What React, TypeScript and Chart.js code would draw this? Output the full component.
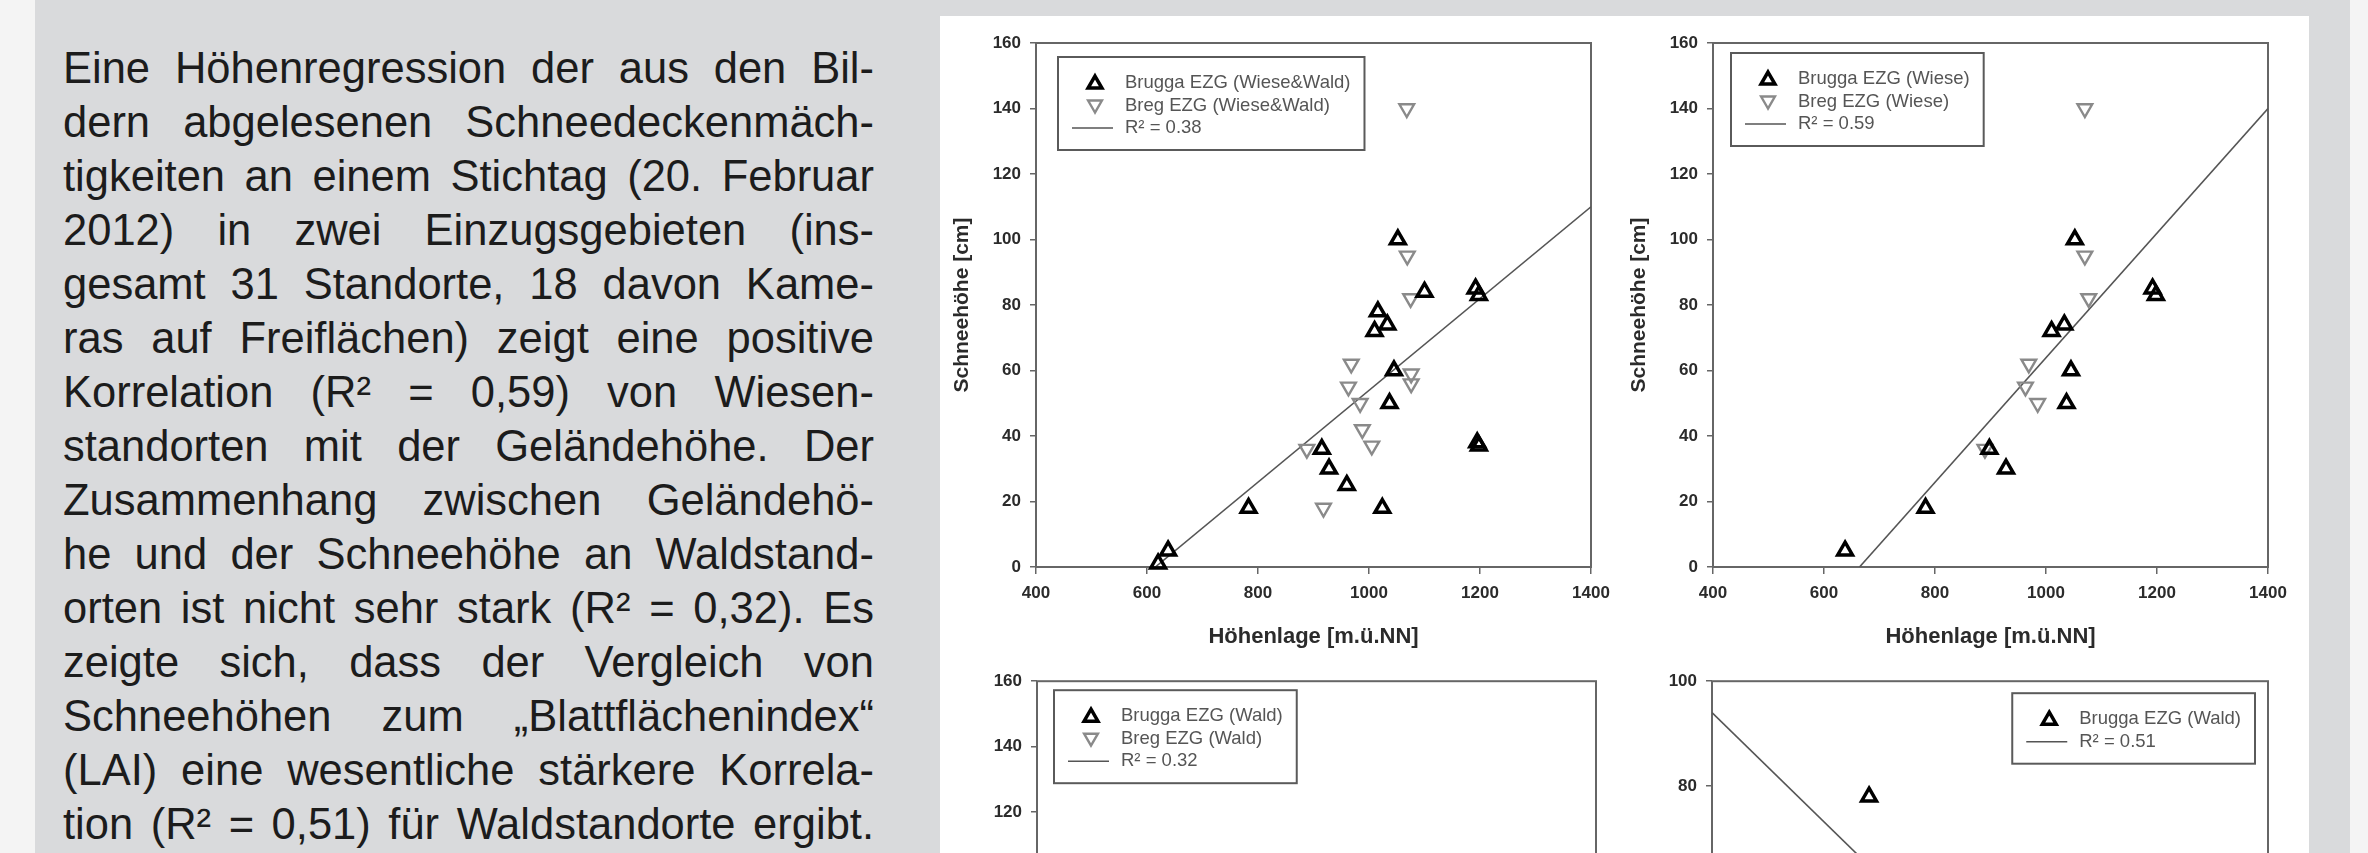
import React, { useEffect, useRef } from "react";
import { Chart, registerables } from "chart.js";

Chart.register(...registerables);
Chart.defaults.font.family = '"Liberation Sans", Arial, sans-serif';

// ---------------- paragraph text ----------------
const TEXT_LINES = [
  "Eine Höhenregression der aus den Bil-",
  "dern abgelesenen Schneedeckenmäch-",
  "tigkeiten an einem Stichtag (20. Februar",
  "2012) in zwei Einzugsgebieten (ins-",
  "gesamt 31 Standorte, 18 davon Kame-",
  "ras auf Freiflächen) zeigt eine positive",
  "Korrelation (R² = 0,59) von Wiesen-",
  "standorten mit der Geländehöhe. Der",
  "Zusammenhang zwischen Geländehö-",
  "he und der Schneehöhe an Waldstand-",
  "orten ist nicht sehr stark (R² = 0,32). Es",
  "zeigte sich, dass der Vergleich von",
  "Schneehöhen zum \u201EBlattflächenindex\u201C",
  "(LAI) eine wesentliche stärkere Korrela-",
  "tion (R² = 0,51) für Waldstandorte ergibt.",
];

// ---------------- shared axes ----------------
const ELEV_TICKS = [400, 600, 800, 1000, 1200, 1400];
const SNOW_TICKS = [0, 20, 40, 60, 80, 100, 120, 140, 160];
const SNOW_TICKS_LAI = [0, 20, 40, 60, 80, 100];
const LAI_TICKS = [0, 1, 2, 3, 4];
const X_TITLE_ELEV = "Höhenlage [m.ü.NN]";
const X_TITLE_LAI = "LAI";
const Y_TITLE = "Schneehöhe [cm]";

// ---------------- panel A: Wiese & Wald ----------------
const A_BRUGGA_X = [1052, 1100, 1192, 1198, 1016, 1033, 1010, 1045, 1037, 1195, 1198, 915, 928, 960, 783, 1024, 638, 620];
const A_BRUGGA_Y = [100, 84, 85, 83, 78, 74, 72, 60, 50, 38, 37, 36, 30, 25, 18, 18, 5, 1];
const A_BREG_X = [1068, 1069, 1075, 968, 1076, 1076, 963, 984, 988, 1005, 888, 918];
const A_BREG_Y = [140, 95, 82, 62, 59, 56, 55, 50, 42, 37, 36, 18];
const A_FIT_X = [615, 1400];
const A_FIT_Y = [0, 110];
const A_LABELS = ["Brugga EZG (Wiese&Wald)", "Breg EZG (Wiese&Wald)", "R² = 0.38"];

// ---------------- panel B: Wiese ----------------
const B_BRUGGA_X = [1052, 1192, 1198, 1033, 1010, 1045, 1037, 898, 928, 783, 638];
const B_BRUGGA_Y = [100, 85, 83, 74, 72, 60, 50, 36, 30, 18, 5];
const B_BREG_X = [1070, 1070, 1077, 969, 963, 985, 890];
const B_BREG_Y = [140, 95, 82, 62, 55, 50, 36];
const B_FIT_X = [664, 1400];
const B_FIT_Y = [0, 140];
const B_LABELS = ["Brugga EZG (Wiese)", "Breg EZG (Wiese)", "R² = 0.59"];

// ---------------- panel C: Wald ----------------
const C_BRUGGA_X = [1100, 1016, 1195, 1198, 960, 1024, 620];
const C_BRUGGA_Y = [84, 78, 38, 37, 25, 18, 1];
const C_BREG_X = [1076, 1076, 988, 1005, 918];
const C_BREG_Y = [59, 56, 42, 37, 18];
const C_FIT_X = [600, 1400];
const C_FIT_Y = [8, 88];
const C_LABELS = ["Brugga EZG (Wald)", "Breg EZG (Wald)", "R² = 0.32"];

// ---------------- panel D: Wald vs. LAI ----------------
const D_BRUGGA_X = [1.13, 1.9, 2.1, 2.6, 3.0, 3.4];
const D_BRUGGA_Y = [78, 38, 37, 25, 18, 1];
const D_FIT_X = [0, 3.6];
const D_FIT_Y = [94, 1];
const D_LABELS = ["Brugga EZG (Wald)", "R² = 0.51"];

// ---------------- styling ----------------
const AXIS_COLOR = "#666666";
const LABEL_COLOR = "#2b2b2b";
const LEGEND_TEXT = "#555555";
const FONT = '"Liberation Sans", Arial, sans-serif';

const pts = (xs: number[], ys: number[]) => xs.map((x, i) => ({ x, y: ys[i] }));

function bruggaSet(label: string, xs: number[], ys: number[]) {
  return {
    label, data: pts(xs, ys), kind: "up",
    pointStyle: "triangle", pointRotation: 0, pointRadius: 8.5, pointHoverRadius: 8.5,
    pointBorderWidth: 3.5, pointBorderColor: "#000000", pointBackgroundColor: "rgba(0,0,0,0)",
    borderColor: "#000000", backgroundColor: "rgba(0,0,0,0)", showLine: false, clip: false, order: 1,
  };
}
function bregSet(label: string, xs: number[], ys: number[]) {
  return {
    label, data: pts(xs, ys), kind: "down",
    pointStyle: "triangle", pointRotation: 180, pointRadius: 8.5, pointHoverRadius: 8.5,
    pointBorderWidth: 2.4, pointBorderColor: "#8a8a8a", pointBackgroundColor: "rgba(0,0,0,0)",
    borderColor: "#8a8a8a", backgroundColor: "rgba(0,0,0,0)", showLine: false, clip: false, order: 2,
  };
}
function fitSet(label: string, xs: number[], ys: number[]) {
  return {
    label, data: pts(xs, ys), kind: "line", showLine: true,
    borderColor: "#555555", borderWidth: 1.6, pointRadius: 0, pointHoverRadius: 0,
    fill: false, tension: 0, order: 3,
  };
}

const framePlugin = {
  id: "frame",
  beforeDatasetsDraw(chart: any) {
    const { ctx, chartArea: a } = chart;
    ctx.save();
    ctx.strokeStyle = AXIS_COLOR;
    ctx.lineWidth = 2;
    ctx.strokeRect(a.left, a.top, a.right - a.left, a.bottom - a.top);
    ctx.restore();
  },
};

function triangle(ctx: any, x: number, y: number, r: number, rotDeg: number) {
  let rad = (rotDeg * Math.PI) / 180;
  ctx.beginPath();
  for (let i = 0; i < 3; i++) {
    const px = x + Math.sin(rad) * r;
    const py = y - Math.cos(rad) * r;
    if (i === 0) ctx.moveTo(px, py); else ctx.lineTo(px, py);
    rad += (2 * Math.PI) / 3;
  }
  ctx.closePath();
}

const boxLegendPlugin = {
  id: "boxLegend",
  afterDraw(chart: any, _args: any, opts: any) {
    const { ctx, chartArea: a } = chart;
    const sets = chart.data.datasets as any[];
    ctx.save();
    ctx.font = `${opts.fontSize}px ${FONT}`;
    const tw = Math.max(...sets.map((d) => ctx.measureText(d.label).width));
    const w = opts.textX + tw + opts.padRight;
    const h = opts.rowTop + (sets.length - 1) * opts.rowGap + opts.padBottom;
    const x = opts.anchor === "right" ? a.right - opts.offsetX - w : a.left + opts.offsetX;
    const y = a.top + opts.offsetY;
    ctx.fillStyle = "#ffffff";
    ctx.fillRect(x, y, w, h);
    ctx.strokeStyle = "#5a5a5a";
    ctx.lineWidth = 2;
    ctx.strokeRect(x, y, w, h);
    sets.forEach((d, i) => {
      const cy = y + opts.rowTop + i * opts.rowGap;
      if (d.kind === "line") {
        ctx.strokeStyle = d.borderColor;
        ctx.lineWidth = 1.6;
        ctx.beginPath();
        ctx.moveTo(x + opts.lineX0, cy);
        ctx.lineTo(x + opts.lineX1, cy);
        ctx.stroke();
      } else {
        triangle(ctx, x + opts.markerX, cy + (d.kind === "up" ? 1 : -1), 8, d.pointRotation);
        ctx.strokeStyle = d.pointBorderColor;
        ctx.lineWidth = d.pointBorderWidth;
        ctx.stroke();
      }
      ctx.fillStyle = LEGEND_TEXT;
      ctx.textBaseline = "middle";
      ctx.textAlign = "left";
      ctx.fillText(d.label, x + opts.textX, cy);
    });
    ctx.restore();
  },
};

type Box = { left: number; top: number; width: number; height: number };
type Area = { l: number; t: number; r: number; b: number };
interface PanelSpec {
  canvas: Box;
  area: Area;
  xTitleY: number;
  yTitleX: number;
  xMin: number; xMax: number; xTicks: number[]; xTitle: string;
  yMin: number; yMax: number; yTicks: number[];
  datasets: any[];
  legend: { anchor: string; offsetX: number; offsetY: number };
}

const X_TITLE_FONT = 22;
const Y_TITLE_FONT = 21;
const TICK_FONT = 17;

function buildConfig(p: PanelSpec): any {
  const c = p.canvas;
  const a = p.area;
  const yAxisWidth = a.l - c.left;
  const xAxisHeight = c.top + c.height - a.b;
  const xLh = X_TITLE_FONT * 1.2;
  const yLh = Y_TITLE_FONT * 1.2;
  const xTitlePadBottom = c.height - (p.xTitleY - c.top) - xLh / 2;
  const yTitlePadTop = p.yTitleX - c.left - yLh / 2;
  const fmt = (v: any) => String(v);
  return {
    type: "scatter",
    data: { datasets: p.datasets },
    options: {
      responsive: false,
      animation: false,
      devicePixelRatio: 1,
      events: [],
      layout: { padding: { left: 0, top: a.t - c.top, right: c.left + c.width - a.r, bottom: 0 } },
      plugins: {
        legend: { display: false },
        tooltip: { enabled: false },
        boxLegend: {
          ...p.legend,
          fontSize: 18.5, rowTop: 26, rowGap: 22.5, padBottom: 22,
          markerX: 37, textX: 67, padRight: 14, lineX0: 14, lineX1: 55,
        },
      },
      scales: {
        x: {
          type: "linear", position: "bottom", min: p.xMin, max: p.xMax,
          afterBuildTicks: (s: any) => { s.ticks = p.xTicks.map((v) => ({ value: v })); },
          afterFit: (s: any) => { s.height = xAxisHeight; },
          ticks: { callback: fmt, padding: 9, color: LABEL_COLOR, font: { size: TICK_FONT, weight: "bold" }, maxRotation: 0, autoSkip: false },
          grid: { drawOnChartArea: false, drawTicks: true, tickLength: 7, color: AXIS_COLOR, lineWidth: 1.5 },
          border: { display: false },
          title: { display: true, text: p.xTitle, color: LABEL_COLOR, font: { size: X_TITLE_FONT, weight: "bold" }, padding: { top: 0, bottom: xTitlePadBottom } },
        },
        y: {
          type: "linear", position: "left", min: p.yMin, max: p.yMax,
          afterBuildTicks: (s: any) => { s.ticks = p.yTicks.map((v) => ({ value: v })); },
          afterFit: (s: any) => { s.width = yAxisWidth; },
          ticks: { callback: fmt, padding: 9, color: LABEL_COLOR, font: { size: TICK_FONT, weight: "bold" }, autoSkip: false },
          grid: { drawOnChartArea: false, drawTicks: true, tickLength: 6, color: AXIS_COLOR, lineWidth: 1.5 },
          border: { display: false },
          title: { display: true, text: Y_TITLE, color: LABEL_COLOR, font: { size: Y_TITLE_FONT, weight: "bold" }, padding: { top: yTitlePadTop, bottom: 0 } },
        },
      },
    },
    plugins: [framePlugin, boxLegendPlugin],
  };
}

const PANELS: PanelSpec[] = [
  {
    canvas: { left: 945, top: 18, width: 675, height: 642 },
    area: { l: 1036, t: 43, r: 1591, b: 567 },
    xTitleY: 637, yTitleX: 962,
    xMin: 400, xMax: 1400, xTicks: ELEV_TICKS, xTitle: X_TITLE_ELEV,
    yMin: 0, yMax: 160, yTicks: SNOW_TICKS,
    datasets: [bruggaSet(A_LABELS[0], A_BRUGGA_X, A_BRUGGA_Y), bregSet(A_LABELS[1], A_BREG_X, A_BREG_Y), fitSet(A_LABELS[2], A_FIT_X, A_FIT_Y)],
    legend: { anchor: "left", offsetX: 22, offsetY: 14 },
  },
  {
    canvas: { left: 1622, top: 18, width: 716, height: 642 },
    area: { l: 1713, t: 43, r: 2268, b: 567 },
    xTitleY: 637, yTitleX: 1639,
    xMin: 400, xMax: 1400, xTicks: ELEV_TICKS, xTitle: X_TITLE_ELEV,
    yMin: 0, yMax: 160, yTicks: SNOW_TICKS,
    datasets: [bruggaSet(B_LABELS[0], B_BRUGGA_X, B_BRUGGA_Y), bregSet(B_LABELS[1], B_BREG_X, B_BREG_Y), fitSet(B_LABELS[2], B_FIT_X, B_FIT_Y)],
    legend: { anchor: "left", offsetX: 18, offsetY: 10 },
  },
  {
    canvas: { left: 945, top: 662, width: 680, height: 640 },
    area: { l: 1037, t: 681, r: 1596, b: 1205 },
    xTitleY: 1271, yTitleX: 962,
    xMin: 400, xMax: 1400, xTicks: ELEV_TICKS, xTitle: X_TITLE_ELEV,
    yMin: 0, yMax: 160, yTicks: SNOW_TICKS,
    datasets: [bruggaSet(C_LABELS[0], C_BRUGGA_X, C_BRUGGA_Y), bregSet(C_LABELS[1], C_BREG_X, C_BREG_Y), fitSet(C_LABELS[2], C_FIT_X, C_FIT_Y)],
    legend: { anchor: "left", offsetX: 17, offsetY: 9 },
  },
  {
    canvas: { left: 1622, top: 662, width: 716, height: 640 },
    area: { l: 1712, t: 681, r: 2268, b: 1206 },
    xTitleY: 1271, yTitleX: 1639,
    xMin: 0, xMax: 4, xTicks: LAI_TICKS, xTitle: X_TITLE_LAI,
    yMin: 0, yMax: 100, yTicks: SNOW_TICKS_LAI,
    datasets: [bruggaSet(D_LABELS[0], D_BRUGGA_X, D_BRUGGA_Y), fitSet(D_LABELS[1], D_FIT_X, D_FIT_Y)],
    legend: { anchor: "right", offsetX: 13, offsetY: 12 },
  },
];

function ChartPanel({ spec }: { spec: PanelSpec }) {
  const ref = useRef<HTMLCanvasElement | null>(null);
  useEffect(() => {
    if (!ref.current) return;
    const chart = new Chart(ref.current, buildConfig(spec));
    return () => chart.destroy();
  }, [spec]);
  const { left, top, width, height } = spec.canvas;
  return (
    <canvas
      ref={ref}
      width={width}
      height={height}
      style={{ position: "absolute", left, top, width, height }}
    />
  );
}

export default function App() {
  return (
    <div
      style={{
        position: "fixed", left: 0, top: 0, width: 2368, height: 853,
        overflow: "hidden", background: "#f4f4f4",
      }}
    >
      <div style={{ position: "absolute", left: 35, top: 0, width: 2315, height: 853, background: "#d9dadc" }} />
      <div style={{ position: "absolute", left: 940, top: 16, width: 1369, height: 837, background: "#ffffff" }} />
      <div
        style={{
          position: "absolute", left: 63, top: 41, width: 811,
          fontFamily: FONT, fontSize: 43.5, lineHeight: "54px", color: "#1c1c1c",
        }}
      >
        {TEXT_LINES.map((line, i) => (
          <div key={i} style={{ textAlign: "justify", textAlignLast: "justify" }}>{line}</div>
        ))}
      </div>
      {PANELS.map((p, i) => (
        <ChartPanel key={i} spec={p} />
      ))}
    </div>
  );
}
